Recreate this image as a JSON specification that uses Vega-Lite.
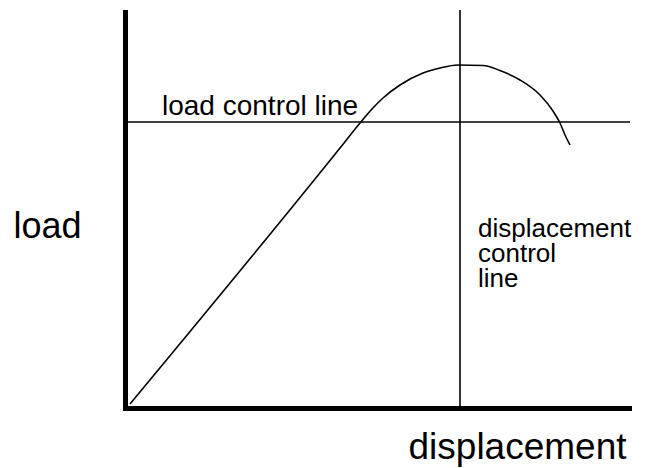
{
  "$schema": "https://vega.github.io/schema/vega-lite/v6.json",
  "width": 504,
  "height": 396,
  "autosize": {"type": "none"},
  "padding": {"left": 125, "top": 12, "right": 16, "bottom": 60},
  "background": "white",
  "config": {"view": {"stroke": null}, "font": "Liberation Sans"},
  "datasets": {
    "curve": [
      {"displacement": 5, "load": 4},
      {"displacement": 215, "load": 260},
      {"displacement": 235, "load": 285},
      {"displacement": 247, "load": 299},
      {"displacement": 258, "load": 310},
      {"displacement": 275, "load": 323},
      {"displacement": 298, "load": 335},
      {"displacement": 315, "load": 340},
      {"displacement": 333, "load": 343},
      {"displacement": 358, "load": 342.5},
      {"displacement": 375, "load": 337.5},
      {"displacement": 395, "load": 328},
      {"displacement": 415, "load": 313},
      {"displacement": 428, "load": 297},
      {"displacement": 435, "load": 285},
      {"displacement": 440, "load": 273},
      {"displacement": 445, "load": 263}
    ],
    "hline": [{"name": "load control line", "load": 286, "from": 0, "to": 505}],
    "vline": [{"name": "displacement control line", "displacement": 335, "from": 0, "to": 398}],
    "label1": [
      {"label": "load control line", "displacement": 37, "load": 293}
    ],
    "label2": [
      {"label": "displacement\ncontrol\nline", "displacement": 353, "load": 171}
    ]
  },
  "layer": [
    {
      "data": {"name": "curve"},
      "mark": {"type": "line", "color": "black", "strokeWidth": 1.6, "interpolate": "monotone"},
      "encoding": {
        "x": {
          "field": "displacement", "type": "quantitative",
          "scale": {"domain": [0, 504], "nice": false, "zero": false},
          "axis": {
            "title": "displacement", "grid": false, "ticks": false, "labels": false,
            "domainColor": "black", "domainWidth": 5, "domainCap": "square",
            "titleFont": "Liberation Sans", "titleFontSize": 37, "titleFontWeight": "normal", "titleColor": "black",
            "titleAlign": "left", "titleBaseline": "alphabetic", "titleX": 283, "titleY": 50
          }
        },
        "y": {
          "field": "load", "type": "quantitative",
          "scale": {"domain": [0, 396], "nice": false, "zero": false},
          "axis": {
            "title": "load", "grid": false, "ticks": false, "labels": false,
            "domainColor": "black", "domainWidth": 5, "domainCap": "square",
            "titleFont": "Liberation Sans", "titleFontSize": 36, "titleFontWeight": "normal", "titleColor": "black",
            "titleAngle": 0, "titleAlign": "left", "titleBaseline": "alphabetic", "titleX": -112, "titleY": 225
          }
        }
      }
    },
    {
      "data": {"name": "hline"},
      "mark": {"type": "rule", "color": "black", "strokeWidth": 1.6},
      "encoding": {
        "y": {"field": "load", "type": "quantitative"},
        "x": {"field": "from", "type": "quantitative"},
        "x2": {"field": "to"}
      }
    },
    {
      "data": {"name": "vline"},
      "mark": {"type": "rule", "color": "black", "strokeWidth": 1.6, "clip": false},
      "encoding": {
        "x": {"field": "displacement", "type": "quantitative"},
        "y": {"field": "from", "type": "quantitative"},
        "y2": {"field": "to"}
      }
    },
    {
      "data": {"name": "label1"},
      "mark": {"type": "text", "align": "left", "baseline": "alphabetic", "fontSize": 28, "color": "black", "font": "Liberation Sans"},
      "encoding": {
        "x": {"field": "displacement", "type": "quantitative"},
        "y": {"field": "load", "type": "quantitative"},
        "text": {"field": "label"}
      }
    },
    {
      "data": {"name": "label2"},
      "mark": {"type": "text", "align": "left", "baseline": "alphabetic", "fontSize": 26, "lineBreak": "\n", "lineHeight": 25, "color": "black", "font": "Liberation Sans"},
      "encoding": {
        "x": {"field": "displacement", "type": "quantitative"},
        "y": {"field": "load", "type": "quantitative"},
        "text": {"field": "label"}
      }
    }
  ]
}
